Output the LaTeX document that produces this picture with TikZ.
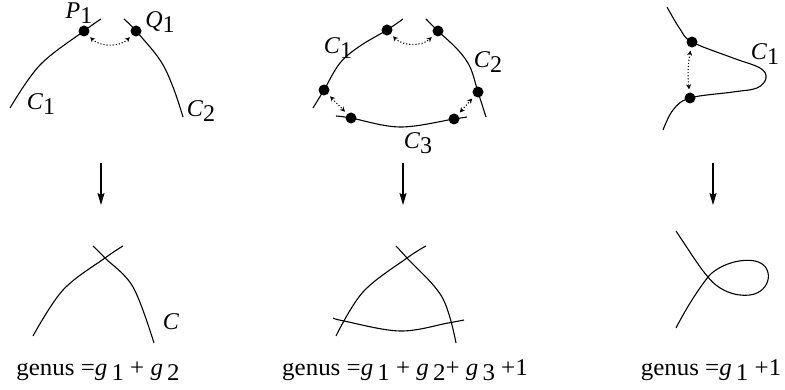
\documentclass[tikz,border=0pt]{standalone}
\usepackage{fontspec}
\setmainfont{Liberation Serif}
\usetikzlibrary{arrows.meta}
\newcommand\lbl[2]{\textit{#1}\lower5pt\hbox{#2}}
\newcommand\gsub[1]{\textit{g}\,\lower5pt\hbox{#1}}
\begin{document}
\begin{tikzpicture}[x=1pt,y=-1pt,
  curve/.style={line width=1.1pt},
  dot/.style={circle,fill,inner sep=0pt,minimum size=11pt},
  glue/.style={dotted, line width=1.1pt, {Stealth[length=5pt,width=5pt]}-{Stealth[length=5pt,width=5pt]}, shorten <=3pt, shorten >=3pt},
  down/.style={-{Stealth[length=12pt,width=7pt,inset=2pt]}, line width=1.1pt},
  lab/.style={font=\fontsize{24}{28}\selectfont, inner sep=0pt},
  gen/.style={font=\fontsize{24}{28}\selectfont, inner sep=0pt, anchor=base}]
\useasboundingbox (0,0) rectangle (785,390);

% ---------- top left ----------
\node[dot] (P1) at (84,31) {};
\node[dot] (Q1) at (136,31) {};
\draw[curve] plot[smooth,tension=0.6] coordinates {(10,108) (40,65) (84,31) (101,19)};
\draw[curve] plot[smooth,tension=0.6] coordinates {(124,19) (136,31) (160,60) (173,87) (183,117)};
\draw[glue] (P1) to[bend right=45] (Q1);
\node[lab] (lP) at (79,13) {\lbl{P}{1}};
\node[lab] (lQ) at (160,22) {\lbl{Q}{1}};
\node[lab] (lC1a) at (41,104) {\lbl{C}{1}};
\node[lab] (lC2a) at (201,111) {\lbl{C}{2}};

% ---------- top middle ----------
\node[dot] (D1) at (324,90) {};
\node[dot] (D2) at (387,30) {};
\node[dot] (D3) at (438,31) {};
\node[dot] (D4) at (478,92) {};
\node[dot] (D5) at (351,118) {};
\node[dot] (D6) at (454,119) {};
\draw[curve] plot[smooth,tension=0.6] coordinates {(313,108) (324,90) (340,63) (360,46) (387,30) (403,19)};
\draw[curve] plot[smooth,tension=0.6] coordinates {(426,19) (438,31) (458,50) (470,67) (478,92) (486,117)};
\draw[curve] plot[smooth,tension=0.6] coordinates {(336,116) (351,118) (400,127) (454,119) (467,117)};
\draw[glue] (D2) to[bend right=45] (D3);
\draw[glue] (D1) -- (D5);
\draw[glue] (D6) -- (D4);
\node[lab] (lC1b) at (338,48) {\lbl{C}{1}};
\node[lab] (lC2b) at (488,62) {\lbl{C}{2}};
\node[lab] (lC3b) at (418,143) {\lbl{C}{3}};

% ---------- top right ----------
\node[dot] (E1) at (692,42) {};
\node[dot] (E2) at (690,98) {};
\draw[curve] plot[smooth,tension=0.6] coordinates {(667,7) (680,29) (692,42) (733,58) (760,68) (766,78) (757,88) (733,92) (690,98) (673,110) (663,130)};
\draw[glue] (E1) to[bend right=8] (E2);
\node[lab] (lC1c) at (765,54) {\lbl{C}{1}};

% ---------- arrows ----------
\coordinate (a1) at (101,163); \coordinate (b1) at (101,205);
\coordinate (a2) at (403,163); \coordinate (b2) at (403,205);
\coordinate (a3) at (713,163); \coordinate (b3) at (713,205);
\draw[down] (a1) -- (b1);
\draw[down] (a2) -- (b2);
\draw[down] (a3) -- (b3);

% ---------- bottom left ----------
\draw[curve] plot[smooth,tension=0.6] coordinates {(33,336) (63,290) (105,258) (123,246)};
\draw[curve] plot[smooth,tension=0.6] coordinates {(93,246) (105,258) (133,287) (154,343)};
\node[lab] (lC) at (171,322) {\textit{C}};
\node[gen] (g1) at (98,375) {\scalebox{1.04}[1]{genus =\gsub{1} + \gsub{2}}};

% ---------- bottom middle ----------
\draw[curve] plot[smooth,tension=0.6] coordinates {(336,336) (363,292) (407,258) (426,246)};
\draw[curve] plot[smooth,tension=0.6] coordinates {(396,246) (407,258) (442,297) (456,343)};
\draw[curve] plot[smooth,tension=0.6] coordinates {(333,318) (344,321) (400,331) (448,323) (464,320)};
\node[gen] (g2) at (405,375) {\scalebox{1.04}[1]{genus =\gsub{1} + \gsub{2}+ \gsub{3} +1}};

% ---------- bottom right ----------
\draw[curve] (676,231) .. controls (690,252) and (700,268) .. (708,277)
  .. controls (718,290) and (735,297) .. (750,295)
  .. controls (772,292) and (775,265) .. (755,261)
  .. controls (740,258) and (718,265) .. (708,277)
  .. controls (698,290) and (688,305) .. (676,328);
\node[gen] (g3) at (711,375) {\scalebox{1.04}[1]{genus =\gsub{1} +1}};
\end{tikzpicture}
\end{document}
